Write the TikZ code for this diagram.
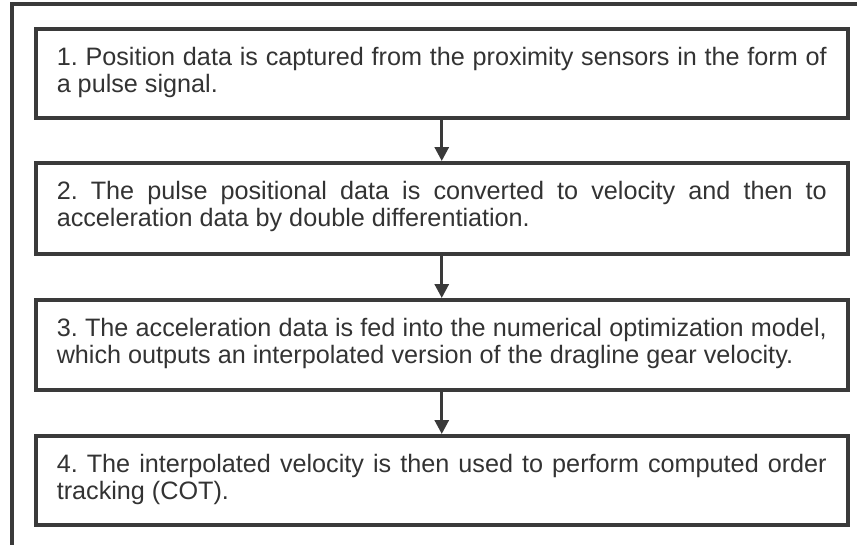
\documentclass[tikz,border=0pt]{standalone}
\usepackage{fontspec}
\setmainfont{Liberation Sans}
\usetikzlibrary{arrows.meta}
\definecolor{ln}{HTML}{3A3A3A}
\definecolor{tx}{HTML}{333333}
\frenchspacing
\begin{document}
\begin{tikzpicture}[x=1pt,y=-1pt,
  stepbox/.style={draw=ln, line width=3.5pt, text=tx,
    font=\fontsize{25.2}{27.2}\selectfont\frenchspacing, text width=770pt, align=justify,
    inner xsep=21pt, inner ysep=0pt, anchor=north west, text height=37pt},
  flow/.style={draw=ln, line width=3pt, -{Triangle[width=14pt,length=14pt]}}]
\useasboundingbox (0,0) rectangle (857,544);
\clip (0,0) rectangle (857,544);
\draw[ln, line width=3.5pt] (12,4) rectangle (900,600);
\node[stepbox, text depth=52pt] (s1) at (34,27)
  {1. Position data is captured from the proximity sensors in the form of\linebreak a pulse signal.};
\node[stepbox, text depth=54pt] (s2) at (34,161)
  {2. The pulse positional data is converted to velocity and then to\linebreak acceleration data by double differentiation.};
\node[stepbox, text depth=53pt] (s3) at (34,298)
  {3. The acceleration data is fed into the numerical optimization model,\linebreak which outputs an interpolated version of the dragline gear velocity.};
\node[stepbox, text depth=52pt] (s4) at (34,434)
  {4. The interpolated velocity is then used to perform computed order\linebreak tracking (COT).};
\draw[flow] (s1.south) -- (s2.north);
\draw[flow] (s2.south) -- (s3.north);
\draw[flow] (s3.south) -- (s4.north);
\end{tikzpicture}
\end{document}
